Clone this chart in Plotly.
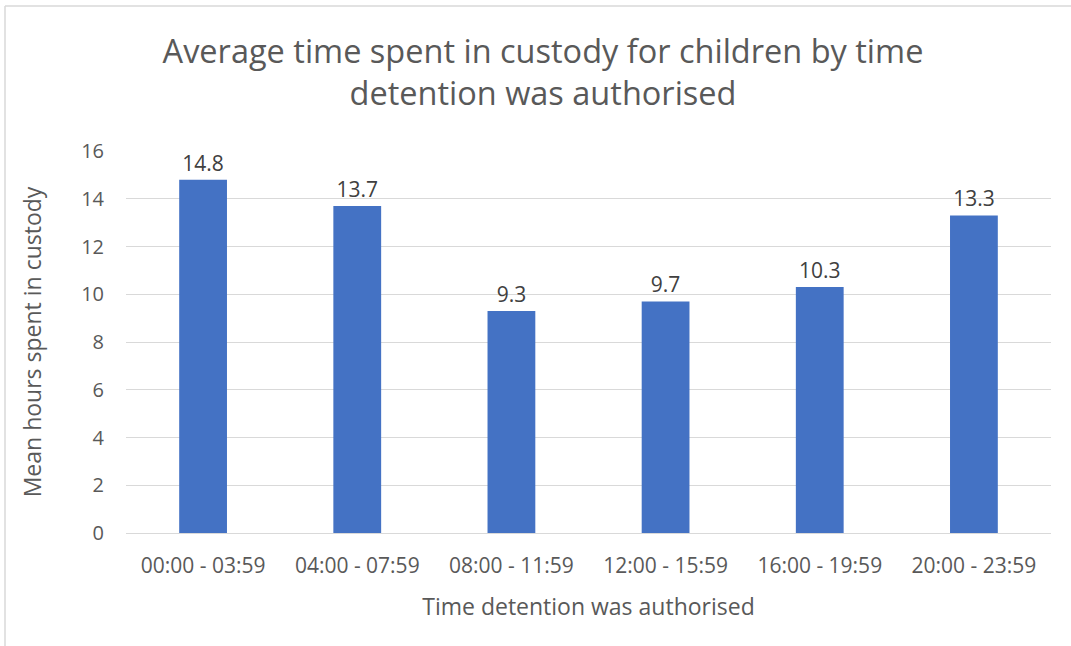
import plotly.graph_objects as go

categories = ["00:00 - 03:59", "04:00 - 07:59", "08:00 - 11:59", "12:00 - 15:59", "16:00 - 19:59", "20:00 - 23:59"]
values = [14.8, 13.7, 9.3, 9.7, 10.3, 13.3]
labels = ["14.8", "13.7", "9.3", "9.7", "10.3", "13.3"]

L, R, T, B = 126, 20, 151, 113
PW, PH = 1071 - L - R, 646 - T - B
bx = (5 - L) / PW
by = (646 - B - 6) / PH

fig = go.Figure(go.Bar(
    x=categories, y=values, text=labels, textposition="outside",
    textfont=dict(size=21, color="#404040"),
    marker=dict(color="#4472C4", line=dict(width=0)),
    width=0.31, cliponaxis=False,
))

fig.update_layout(
    width=1071, height=646,
    paper_bgcolor="white", plot_bgcolor="white",
    margin=dict(l=L, r=R, t=T, b=B),
    font=dict(family="Open Sans", color="#595959"),
    title=dict(text="Average time spent in custody for children by time<br>detention was authorised",
               x=0.507, xanchor="center", yref="container", y=1 - 63 / 646, yanchor="middle",
               font=dict(size=32.5, color="#595959")),
    showlegend=False,
    shapes=[
        dict(type="line", xref="paper", yref="paper", x0=bx, x1=1.2, y0=by, y1=by,
             line=dict(color="#d9d9d9", width=1.5)),
        dict(type="line", xref="paper", yref="paper", x0=bx, x1=bx, y0=-0.5, y1=by,
             line=dict(color="#d9d9d9", width=1.5)),
    ],
)
fig.update_yaxes(range=[0, 16], dtick=2, showgrid=True, gridcolor="#d9d9d9", gridwidth=1.3,
                 zeroline=False, showline=False, ticks="", tickfont=dict(size=20, color="#595959"),
                 ticklabelstandoff=21,
                 title=dict(text="Mean hours spent in custody", font=dict(size=23, color="#595959"), standoff=33))
fig.update_xaxes(showline=True, linecolor="#d9d9d9", linewidth=1.3, ticks="",
                 tickfont=dict(size=21, color="#595959"), ticklabelstandoff=14,
                 title=dict(text="Time detention was authorised", font=dict(size=23, color="#595959"), standoff=20))

fig.write_html("out.html", config={"displayModeBar": False},
               post_script="document.body.style.margin='0px';")
